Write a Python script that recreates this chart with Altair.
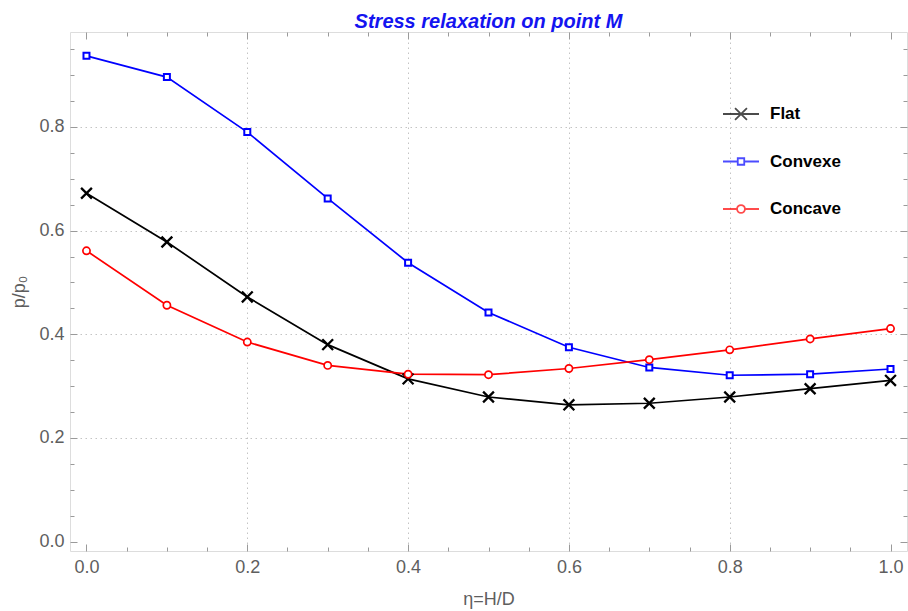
import altair as alt
import pandas as pd

# Stress ratio p/p0 at point M versus eta = H/D for three surface shapes
eta = [0.0, 0.1, 0.2, 0.3, 0.4, 0.5, 0.6, 0.7, 0.8, 0.9, 1.0]
flat = [0.672, 0.578, 0.472, 0.380, 0.314, 0.279, 0.264, 0.267, 0.279, 0.295, 0.311]
convexe = [0.937, 0.896, 0.790, 0.662, 0.538, 0.442, 0.375, 0.336, 0.321, 0.323, 0.333]
concave = [0.561, 0.456, 0.385, 0.340, 0.323, 0.322, 0.334, 0.351, 0.370, 0.391, 0.411]

series_names = ["Flat", "Convexe", "Concave"]
series_colors = ["#000000", "#0000ff", "#ff0000"]

x_ticks_major = [0.0, 0.2, 0.4, 0.6, 0.8, 1.0]
y_ticks_major = [0.0, 0.2, 0.4, 0.6, 0.8]
x_ticks_all = [round(i * 0.05, 2) for i in range(21)]
y_ticks_all = [round(i * 0.05, 2) for i in range(20)]

rows = []
for name, vals in zip(series_names, [flat, convexe, concave]):
    for e, v in zip(eta, vals):
        rows.append({"eta": e, "value": v, "series": name})
df = pd.DataFrame(rows)

W, H = 837, 519
FONT = "Liberation Sans"
LABEL_GREY = "#5e5e5e"
FRAME_GREY = "#b4b4b4"
TICK_GREY = "#9a9a9a"

x_scale = alt.Scale(domain=[-0.0205, 1.0205], nice=False, zero=False)
y_scale = alt.Scale(domain=[-0.018, 0.983], nice=False, zero=False)
color_scale = alt.Scale(domain=series_names, range=series_colors)

# plot markers: cross, square, circle
marker_paths = [
    "M-0.9,-0.9L0.9,0.9M-0.9,0.9L0.9,-0.9",
    "M-0.5,-0.5H0.5V0.5H-0.5Z",
    "M-0.6,0A0.6,0.6 0 1,0 0.6,0A0.6,0.6 0 1,0 -0.6,0Z",
]
# legend glyphs: short line with the marker in the middle; the leading moves
# give every glyph the same square extent so the legend rows are evenly spaced
legend_paths = [
    "M0,-1M0,1M-1,0H1M-0.33,-0.33L0.33,0.33M-0.33,0.33L0.33,-0.33",
    "M0,-1M0,1M-1,0H-0.18M0.18,0H1M-0.18,-0.18H0.18V0.18H-0.18Z",
    "M0,-1M0,1M-1,0H-0.22M0.22,0H1M-0.22,0A0.22,0.22 0 1,0 0.22,0A0.22,0.22 0 1,0 -0.22,0Z",
]

major_test = "abs(datum.value*5 - round(datum.value*5)) < 0.000001"
edge_test = "datum.value < 0.01 || datum.value > 0.99"
tick_dash = {"condition": {"test": major_test, "value": [7, 0]}, "value": [4, 30]}


def inward_axis(orient, offset, values):
    return alt.Axis(
        orient=orient, offset=offset, values=values, labels=False, domain=False,
        grid=False, title=None, ticks=True, tickSize=7, tickColor=TICK_GREY,
        tickWidth=1, tickDash=tick_dash,
    )


main_x_axis = alt.Axis(
    orient="bottom", values=x_ticks_major, format=".1f", ticks=False, domain=False,
    labelFont=FONT, labelFontSize=18, labelColor=LABEL_GREY, labelPadding=7,
    grid=True, gridColor="#c4c4c4", gridDash=[1.5, 3.5], gridWidth=1,
    gridOpacity={"condition": {"test": edge_test, "value": 0}, "value": 1},
    title="η=H/D", titleFont=FONT, titleFontSize=18, titleFontWeight="normal",
    titleColor=LABEL_GREY, titlePadding=14,
)
main_y_axis = alt.Axis(
    orient="left", values=y_ticks_major, format=".1f", ticks=False, domain=False,
    labelFont=FONT, labelFontSize=18, labelColor=LABEL_GREY, labelPadding=6,
    grid=True, gridColor="#c4c4c4", gridDash=[1.5, 3.5], gridWidth=1,
    gridOpacity={"condition": {"test": "datum.value < 0.01", "value": 0}, "value": 1},
    title="p/p₀", titleFont=FONT, titleFontSize=18, titleFontWeight="normal",
    titleColor=LABEL_GREY, titlePadding=10,
)

base = alt.Chart(df)

lines = base.mark_line(strokeWidth=1.7).encode(
    x=alt.X("eta:Q", scale=x_scale, axis=main_x_axis),
    y=alt.Y("value:Q", scale=y_scale, axis=main_y_axis),
    color=alt.Color("series:N", scale=color_scale, legend=None),
    detail="series:N",
)

markers = base.mark_point(filled=False, fill="white", opacity=1, size=144).encode(
    x=alt.X("eta:Q", scale=x_scale, axis=inward_axis("top", -H, x_ticks_all)),
    y=alt.Y("value:Q", scale=y_scale, axis=inward_axis("right", -W, y_ticks_all)),
    color=alt.Color("series:N", scale=color_scale, legend=None),
    shape=alt.Shape("series:N", scale=alt.Scale(domain=series_names, range=marker_paths), legend=None),
    strokeWidth=alt.StrokeWidth("series:N", scale=alt.Scale(domain=series_names, range=[2.3, 1.7, 1.7]), legend=None),
)

legend_props = dict(
    title=None, orient="none", legendX=652, legendY=63, padding=0,
    symbolSize=1296, symbolStrokeWidth=1.8, symbolFillColor="white",
    labelFont=FONT, labelFontSize=17, labelFontWeight="bold", labelColor="#000000",
    labelOffset=10, rowPadding=3.5,
)

# key layer: draws no marks itself, only carries the legend and the top/right ticks
legend_layer = base.transform_filter("false").mark_point(filled=False).encode(
    x=alt.X("eta:Q", scale=x_scale, axis=inward_axis("bottom", -H, x_ticks_all)),
    y=alt.Y("value:Q", scale=y_scale, axis=inward_axis("left", -W, y_ticks_all)),
    color=alt.Color("series:N", scale=color_scale, legend=alt.Legend(**legend_props)),
    shape=alt.Shape("series:N", scale=alt.Scale(domain=series_names, range=legend_paths),
                    legend=alt.Legend(**legend_props)),
)

chart = (
    alt.layer(lines, markers, legend_layer)
    .resolve_scale(shape="independent", strokeWidth="independent", color="independent")
    .resolve_axis(x="independent", y="independent")
    .properties(
        width=W, height=H,
        autosize=alt.AutoSizeParams(type="none"),
        padding={"left": 70, "top": 32, "right": 1, "bottom": 60},
        title=alt.TitleParams(
            "Stress relaxation on point M", font=FONT, fontSize=20, fontWeight="bold",
            fontStyle="italic", color="#1414f0", anchor="middle", frame="group",
            offset=-16, baseline="alphabetic",
        ),
    )
    .configure_view(stroke=FRAME_GREY, strokeWidth=1.2)
    .configure(background="white")
)

chart.save("out.html", embed_options={"renderer": "svg", "actions": False})
